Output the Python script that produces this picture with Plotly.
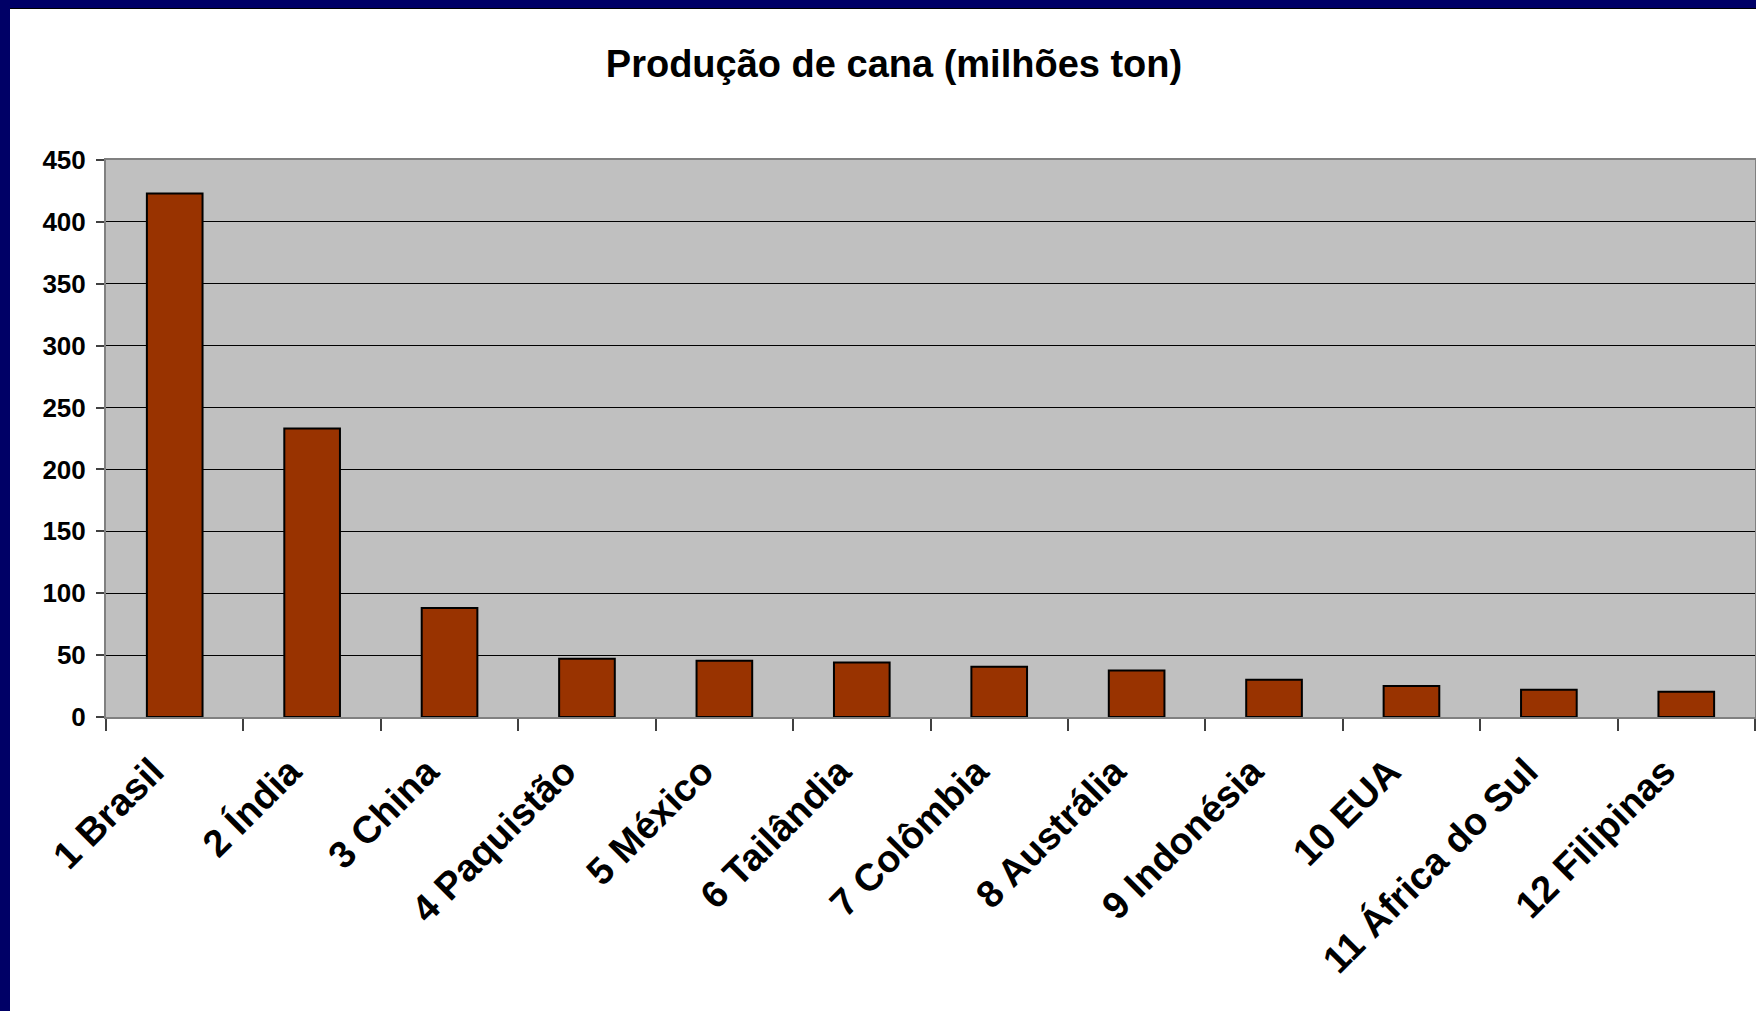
import plotly.graph_objects as go

# Sugar-cane production by country (million tonnes)
paises = ["1 Brasil", "2 Índia", "3 China", "4 Paquistão", "5 México",
          "6 Tailândia", "7 Colômbia", "8 Austrália", "9 Indonésia",
          "10 EUA", "11 África do Sul", "12 Filipinas"]
producao = [423, 233, 88, 47, 45.5, 44, 40.5, 37.5, 30, 25, 22, 20.5]
y_ticks = [0, 50, 100, 150, 200, 250, 300, 350, 400, 450]

W, H = 1756, 1011
ML, MR, MT, MB = 106, 1, 160, 294
PW, PH = W - ML - MR, H - MT - MB

FONT = "Liberation Sans, Arial, sans-serif"
NAVY = "#000066"

fig = go.Figure(
    go.Bar(
        x=paises,
        y=producao,
        marker=dict(color="#993300", line=dict(color="#000000", width=2)),
    )
)

# Frame around the slide: navy band on the left and along the top
def px_to_x(px):
    return (px - ML) / PW

def px_to_y(py):
    return (H - MB - py) / PH

shapes = [
    dict(type="rect", xref="paper", yref="paper",
         x0=px_to_x(0), x1=px_to_x(10), y0=px_to_y(H), y1=px_to_y(0),
         fillcolor=NAVY, line=dict(width=0), layer="above"),
    dict(type="rect", xref="paper", yref="paper",
         x0=px_to_x(0), x1=px_to_x(W), y0=px_to_y(8), y1=px_to_y(0),
         fillcolor=NAVY, line=dict(width=0), layer="above"),
    dict(type="line", xref="paper", yref="paper",
         x0=px_to_x(10), x1=px_to_x(W), y0=px_to_y(8.5), y1=px_to_y(8.5),
         line=dict(color="#000000", width=1), layer="above"),
]

fig.update_layout(
    width=W, height=H,
    margin=dict(l=ML, r=MR, t=MT, b=MB, autoexpand=False),
    paper_bgcolor="#FFFFFF",
    plot_bgcolor="#C0C0C0",
    bargap=0.595,
    showlegend=False,
    font=dict(family=FONT, color="#000000"),
    title=dict(
        text="Produção de cana (milhões ton)",
        x=894 / W, xanchor="center",
        y=1 - 64 / H, yanchor="middle", yref="container",
        font=dict(family=FONT, size=38, weight="bold", color="#000000"),
    ),
    shapes=shapes,
)

fig.update_xaxes(
    type="category",
    tickangle=-45,
    tickfont=dict(family=FONT, size=38, weight="bold"),
    ticks="outside", ticklen=12, tickwidth=1.5, tickcolor="#404040",
    tickson="boundaries",
    ticklabelstandoff=15,
    ticklabelshift=-22,
    showline=True, linecolor="#808080", linewidth=2, mirror=True,
    showgrid=False,
)

fig.update_yaxes(
    range=[0, 450],
    tickvals=y_ticks,
    tickfont=dict(family=FONT, size=26, weight="bold"),
    ticks="outside", ticklen=8, tickwidth=1.5, tickcolor="#404040",
    ticklabelstandoff=5,
    showline=True, linecolor="#808080", linewidth=2, mirror=True,
    showgrid=True, gridcolor="#000000", gridwidth=1,
    zeroline=False,
)

fig.write_html("out.html")
